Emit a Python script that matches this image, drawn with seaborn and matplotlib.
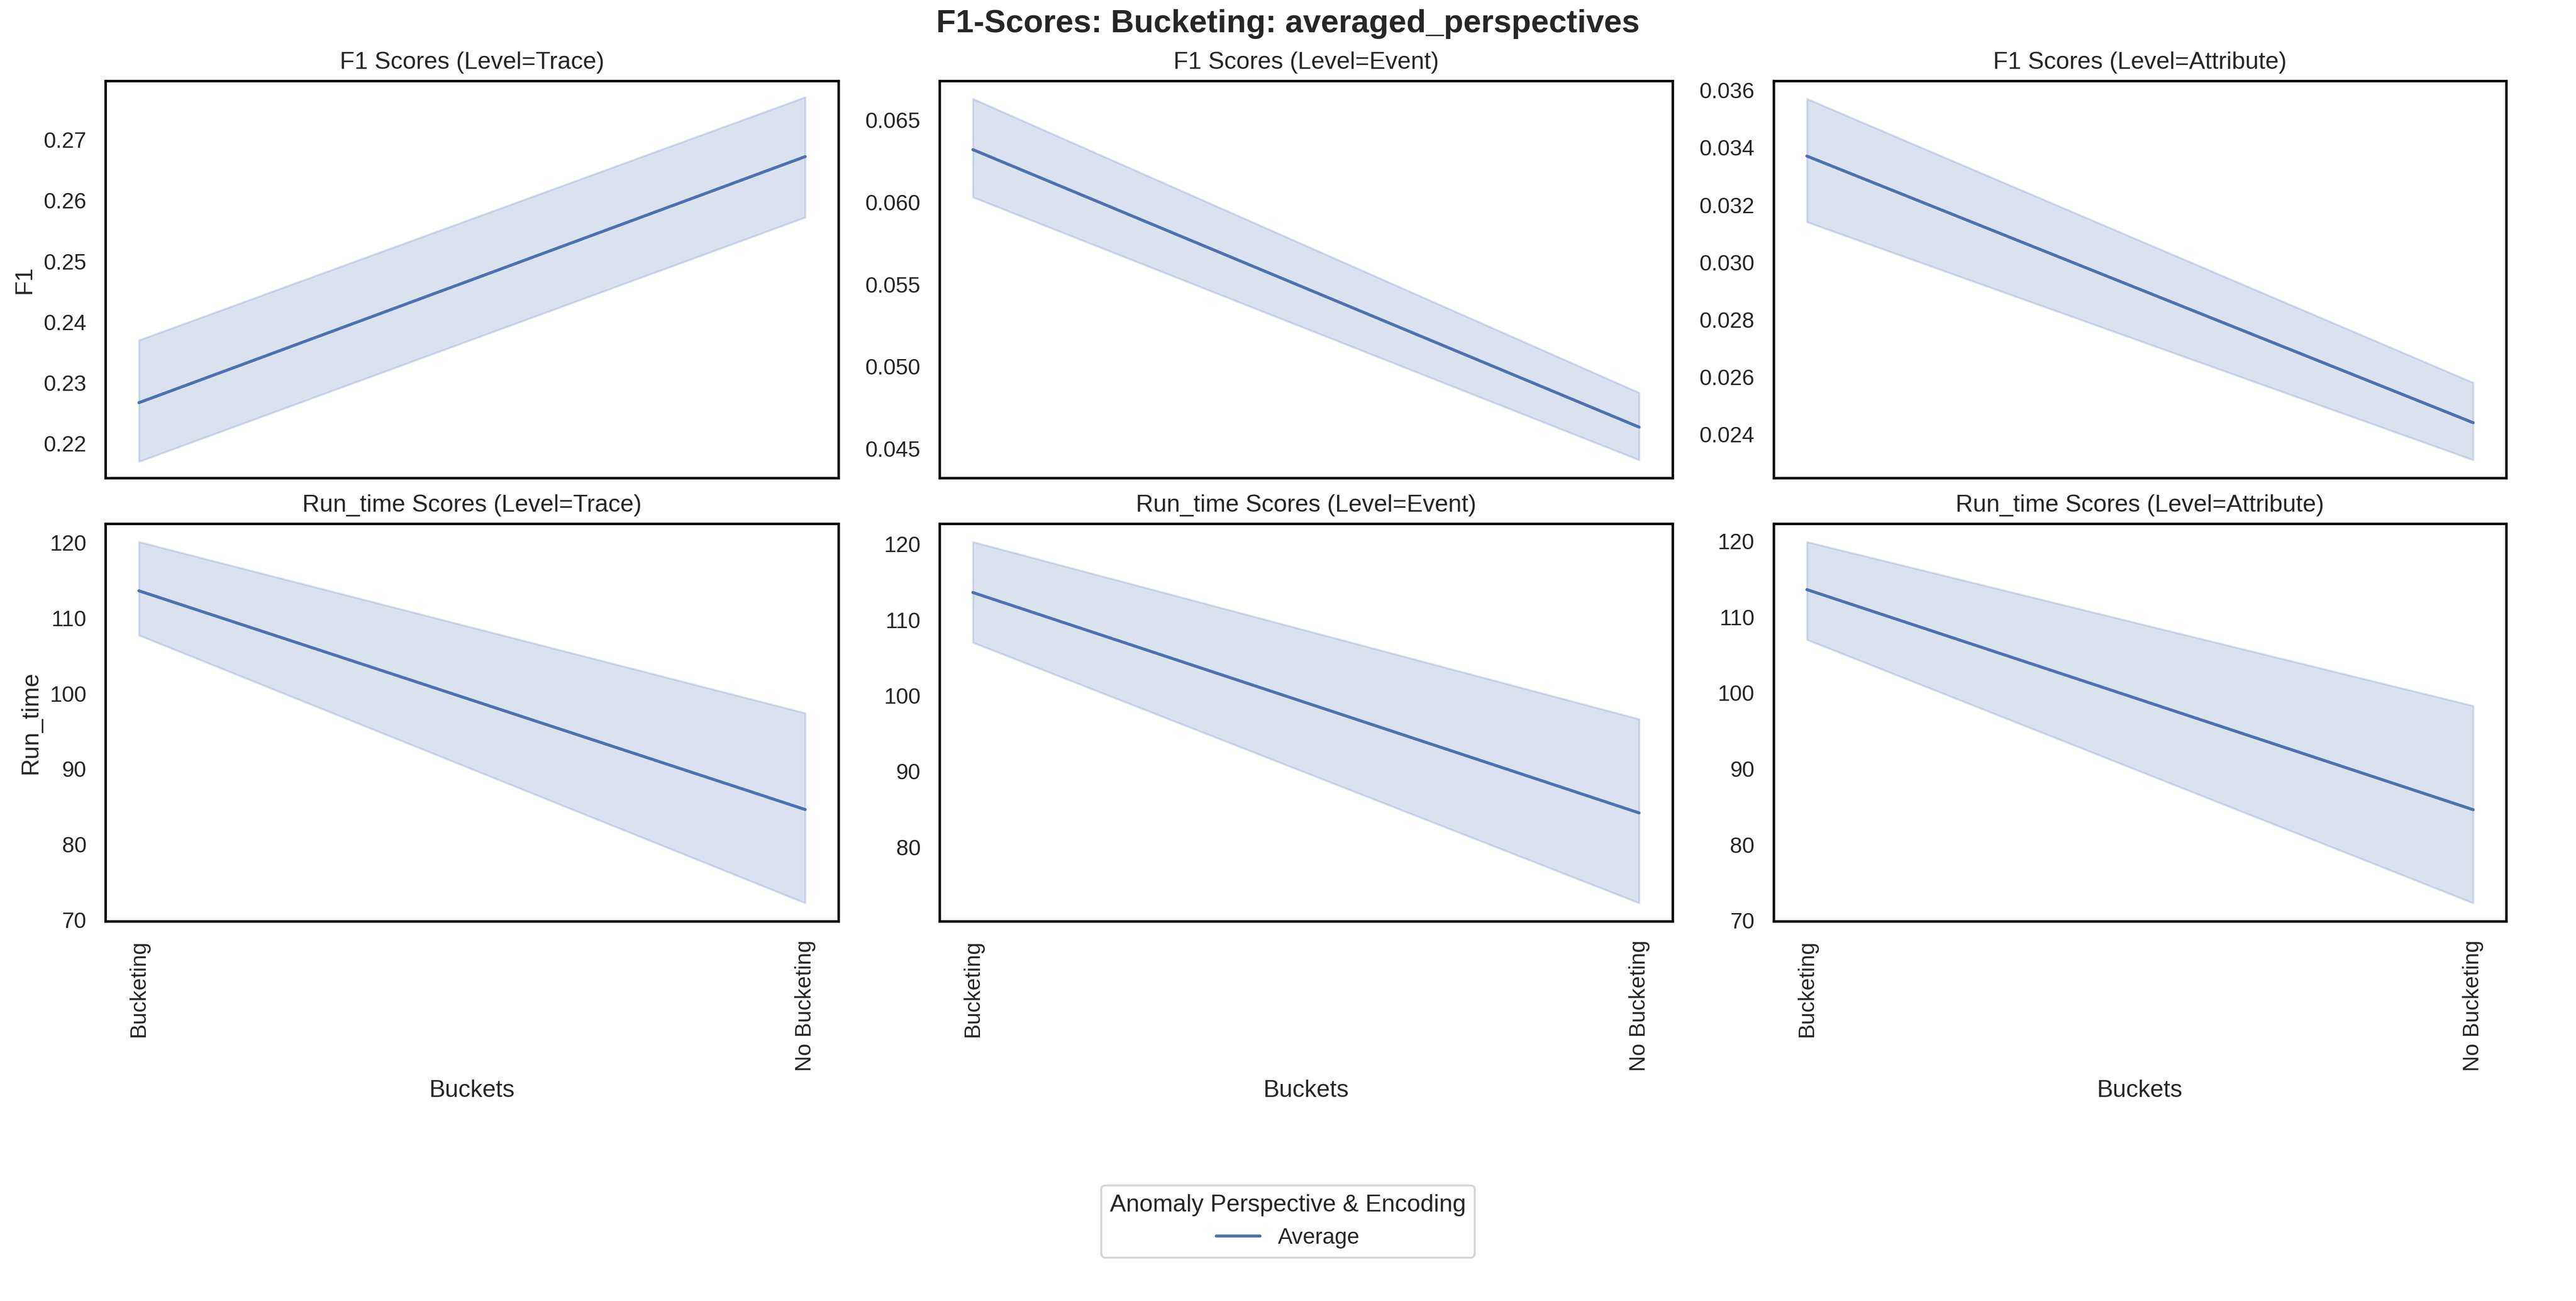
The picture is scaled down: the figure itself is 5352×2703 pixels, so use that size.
import matplotlib
matplotlib.use("Agg")
import matplotlib.pyplot as plt
import seaborn as sns
import pandas as pd

buckets = ["Bucketing", "No Bucketing"]
levels = ["Trace", "Event", "Attribute"]

# mean, lower and upper band per level
f1_mean = {"Trace": [0.2267, 0.2672], "Event": [0.0632, 0.0463], "Attribute": [0.0337, 0.0244]}
f1_low = {"Trace": [0.2170, 0.2572], "Event": [0.0603, 0.0443], "Attribute": [0.0314, 0.0231]}
f1_high = {"Trace": [0.2370, 0.2770], "Event": [0.0663, 0.0484], "Attribute": [0.0357, 0.0258]}

rt_mean = {"Trace": [113.6, 84.6], "Event": [113.6, 84.5], "Attribute": [113.6, 84.6]}
rt_low = {"Trace": [107.7, 72.2], "Event": [107.0, 72.6], "Attribute": [107.0, 72.3]}
rt_high = {"Trace": [120.1, 97.4], "Event": [120.3, 96.9], "Attribute": [119.9, 98.3]}

sns.set_theme(style="white")
plt.rcParams['font.family'] = ['Liberation Sans', 'DejaVu Sans']
color = sns.color_palette("deep")[0]

fig, axes = plt.subplots(2, 3, figsize=(17.84, 9.01), sharex=True)
fig.subplots_adjust(left=0.041, right=0.973, top=0.938, bottom=0.292, hspace=0.115, wspace=0.138)

rows = [("F1", f1_mean, f1_low, f1_high), ("Run_time", rt_mean, rt_low, rt_high)]
for r, (metric, mean, low, high) in enumerate(rows):
    for c, lvl in enumerate(levels):
        ax = axes[r, c]
        df = pd.DataFrame({"Buckets": buckets, metric: mean[lvl]})
        sns.lineplot(data=df, x="Buckets", y=metric, ax=ax, color=color,
                     label="Average" if (r == 0 and c == 0) else None, legend=False)
        ax.fill_between(buckets, low[lvl], high[lvl], color=color, alpha=0.2)
        ax.set_title(f"{metric} Scores (Level={lvl})")
        if c != 0:
            ax.set_ylabel("")
        if r == 1:
            ax.tick_params(axis="x", rotation=90)
        for s in ax.spines.values():
            s.set_color("black")

axes[0, 0].set_ylim(0.2143, 0.2797)

handles, labels = axes[0, 0].get_legend_handles_labels()
fig.legend(handles, labels, title="Anomaly Perspective & Encoding", loc="lower center",
           bbox_to_anchor=(0.5, 0.025))
fig.suptitle("F1-Scores: Bucketing: averaged_perspectives", fontsize=16, fontweight="bold", y=0.993)
fig.savefig("out.png", dpi=300)
